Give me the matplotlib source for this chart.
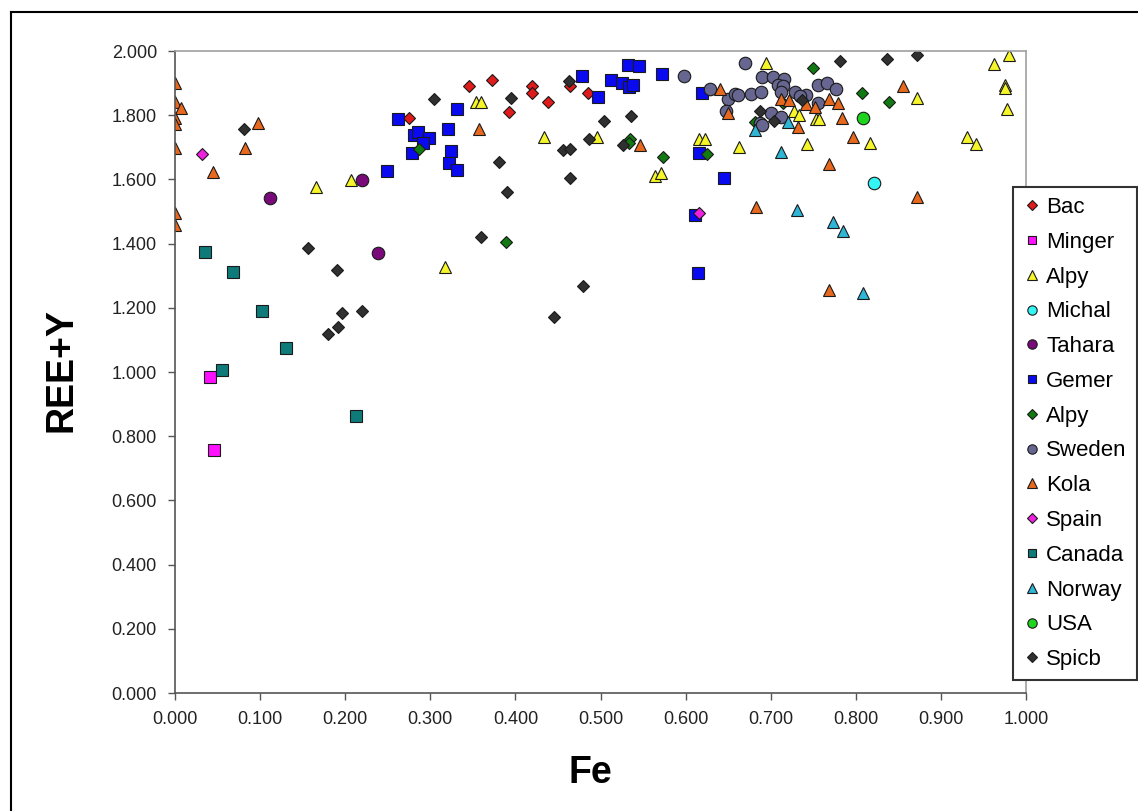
import matplotlib
matplotlib.use('Agg')
import matplotlib.pyplot as plt
from matplotlib.lines import Line2D

plt.rcParams['font.family'] = ['Liberation Sans', 'DejaVu Sans']

# data: (Fe, REE+Y) per locality
bac_x = [0.275, 0.346, 0.372, 0.420, 0.420, 0.393, 0.438, 0.464, 0.485]
bac_y = [1.790, 1.890, 1.910, 1.890, 1.870, 1.810, 1.840, 1.890, 1.870]

minger_x = [0.041, 0.046]
minger_y = [0.983, 0.758]

alpy_x = [0.166, 0.207, 0.317, 0.354, 0.360, 0.434, 0.496, 0.564, 0.571, 0.616,
          0.623, 0.663, 0.695, 0.727, 0.733, 0.743, 0.753, 0.757, 0.817, 0.872,
          0.931, 0.941, 0.962, 0.980, 0.975, 0.975, 0.978]
alpy_y = [1.576, 1.597, 1.326, 1.841, 1.841, 1.732, 1.732, 1.610, 1.619, 1.725,
          1.725, 1.700, 1.963, 1.813, 1.800, 1.710, 1.788, 1.788, 1.713, 1.853,
          1.732, 1.710, 1.960, 1.988, 1.894, 1.884, 1.819]

michal_x = [0.821]
michal_y = [1.588]

tahara_x = [0.112, 0.220, 0.238]
tahara_y = [1.541, 1.597, 1.370]

gemer_x = [0.262, 0.249, 0.281, 0.285, 0.299, 0.291, 0.278, 0.321, 0.331, 0.324,
           0.322, 0.331, 0.478, 0.497, 0.512, 0.525, 0.533, 0.538, 0.532, 0.545,
           0.572, 0.619, 0.616, 0.645, 0.611, 0.614]
gemer_y = [1.788, 1.626, 1.738, 1.747, 1.729, 1.713, 1.682, 1.757, 1.819, 1.688,
           1.651, 1.629, 1.922, 1.857, 1.910, 1.900, 1.888, 1.894, 1.957, 1.953,
           1.928, 1.869, 1.682, 1.604, 1.488, 1.307]

alpy2_x = [0.287, 0.389, 0.535, 0.534, 0.574, 0.625, 0.750, 0.807, 0.839, 0.682, 0.714]
alpy2_y = [1.694, 1.404, 1.725, 1.713, 1.669, 1.679, 1.947, 1.869, 1.841, 1.778, 1.838]

sweden_x = [0.598, 0.629, 0.650, 0.658, 0.661, 0.648, 0.670, 0.677, 0.689, 0.690,
            0.703, 0.716, 0.708, 0.714, 0.712, 0.729, 0.741, 0.734, 0.755, 0.766,
            0.777, 0.755, 0.700, 0.712, 0.687, 0.690]
sweden_y = [1.922, 1.881, 1.850, 1.866, 1.863, 1.813, 1.963, 1.866, 1.872, 1.919,
            1.919, 1.913, 1.894, 1.891, 1.872, 1.872, 1.863, 1.860, 1.894, 1.900,
            1.881, 1.838, 1.807, 1.794, 1.775, 1.769]

kola_x = [0.000, 0.000, 0.007, 0.000, 0.000, 0.000, 0.098, 0.082, 0.045, 0.000,
          0.000, 0.357, 0.546, 0.641, 0.650, 0.712, 0.722, 0.741, 0.752, 0.768,
          0.779, 0.732, 0.784, 0.797, 0.856, 0.768, 0.683, 0.872, 0.768]
kola_y = [1.900, 1.841, 1.822, 1.791, 1.772, 1.697, 1.775, 1.697, 1.622, 1.494,
          1.457, 1.757, 1.707, 1.881, 1.807, 1.850, 1.847, 1.835, 1.825, 1.850,
          1.838, 1.763, 1.791, 1.732, 1.891, 1.647, 1.513, 1.544, 1.254]

spain_x = [0.032, 0.616]
spain_y = [1.679, 1.494]

canada_x = [0.035, 0.068, 0.102, 0.130, 0.055, 0.213]
canada_y = [1.373, 1.310, 1.189, 1.076, 1.005, 0.864]

norway_x = [0.682, 0.720, 0.712, 0.731, 0.773, 0.785, 0.808]
norway_y = [1.753, 1.778, 1.685, 1.504, 1.466, 1.438, 1.245]

usa_x = [0.808]
usa_y = [1.791]

spicb_x = [0.304, 0.081, 0.156, 0.190, 0.196, 0.220, 0.191, 0.180, 0.463, 0.395,
           0.504, 0.536, 0.381, 0.456, 0.464, 0.486, 0.527, 0.390, 0.464, 0.360,
           0.479, 0.445, 0.782, 0.837, 0.872, 0.688, 0.704, 0.737]
spicb_y = [1.850, 1.757, 1.385, 1.317, 1.183, 1.189, 1.139, 1.117, 1.906, 1.853,
           1.782, 1.797, 1.654, 1.691, 1.694, 1.725, 1.707, 1.560, 1.604, 1.420,
           1.267, 1.170, 1.969, 1.975, 1.988, 1.813, 1.782, 1.847]

x_ticks = [i / 10 for i in range(11)]
y_ticks = [i / 5 for i in range(11)]

# (label, x, y, marker, size, colour)
series = [
    ('Bac', bac_x, bac_y, 'D', 6.5, '#e01b1b'),
    ('Minger', minger_x, minger_y, 's', 8, '#ff10ff'),
    ('Alpy', alpy_x, alpy_y, '^', 9, '#f5f52a'),
    ('Michal', michal_x, michal_y, 'o', 9, '#33f5f5'),
    ('Tahara', tahara_x, tahara_y, 'o', 9, '#7a0a7a'),
    ('Gemer', gemer_x, gemer_y, 's', 8, '#0a0af0'),
    ('Alpy', alpy2_x, alpy2_y, 'D', 6.5, '#127a12'),
    ('Sweden', sweden_x, sweden_y, 'o', 9, '#666690'),
    ('Kola', kola_x, kola_y, '^', 9, '#e8691e'),
    ('Spain', spain_x, spain_y, 'D', 6.5, '#f020e0'),
    ('Canada', canada_x, canada_y, 's', 8, '#0f7a7a'),
    ('Norway', norway_x, norway_y, '^', 9, '#2fb5d5'),
    ('USA', usa_x, usa_y, 'o', 9, '#1ed41e'),
    ('Spicb', spicb_x, spicb_y, 'D', 6.5, '#303030'),
]

fig = plt.figure(figsize=(11.38, 8.11), dpi=100)
ax = fig.add_axes([175 / 1138, 1 - 693 / 811, 851 / 1138, 642 / 811])

handles = []
for name, xs, ys, mk, ms, col in series:
    h, = ax.plot(xs, ys, linestyle='none', marker=mk, markersize=ms,
                 markerfacecolor=col, markeredgecolor='#1a1a1a',
                 markeredgewidth=0.8, label=name)
    handles.append(h)

ax.set_xlim(0, 1)
ax.set_ylim(0, 2)
ax.set_xticks(x_ticks)
ax.set_yticks(y_ticks)
ax.set_xticklabels([f'{v:.3f}' for v in x_ticks])
ax.set_yticklabels([f'{v:.3f}' for v in y_ticks])
ax.tick_params(axis='both', direction='out', length=5, width=1,
               color='#555555', labelsize=13, labelcolor='#222222')
ax.tick_params(axis='x', pad=8)
ax.tick_params(axis='y', pad=8)
for side in ['left', 'bottom']:
    ax.spines[side].set_color('#555555')
    ax.spines[side].set_linewidth(1.2)
for side in ['top', 'right']:
    ax.spines[side].set_color('#a0a0a0')
    ax.spines[side].set_linewidth(1.2)

fig.text(62 / 1138, 1 - 370 / 811, 'REE+Y', rotation=90, fontsize=27,
         fontweight='bold', ha='center', va='center')
fig.text(590 / 1138, 1 - 773 / 811, 'Fe', fontsize=27,
         fontweight='bold', ha='center', va='center')

leg = fig.legend(handles=handles, loc='upper left',
                 bbox_to_anchor=(1013 / 1138, 1 - 187 / 811),
                 bbox_transform=fig.transFigure, borderaxespad=0,
                 fontsize=16, markerscale=0.75, handlelength=0.8,
                 handletextpad=0.25, labelspacing=0.62, borderpad=0.45,
                 fancybox=False, framealpha=1, edgecolor='#333333')
leg.get_frame().set_linewidth(1.5)

# chart-area border (left and top edges visible)
fig.add_artist(Line2D([11 / 1138, 11 / 1138], [0, 1 - 12 / 811],
                      transform=fig.transFigure, color='black', lw=1.5))
fig.add_artist(Line2D([11 / 1138, 1], [1 - 12 / 811, 1 - 12 / 811],
                      transform=fig.transFigure, color='black', lw=1.5))

fig.savefig('out.png', dpi=100)
